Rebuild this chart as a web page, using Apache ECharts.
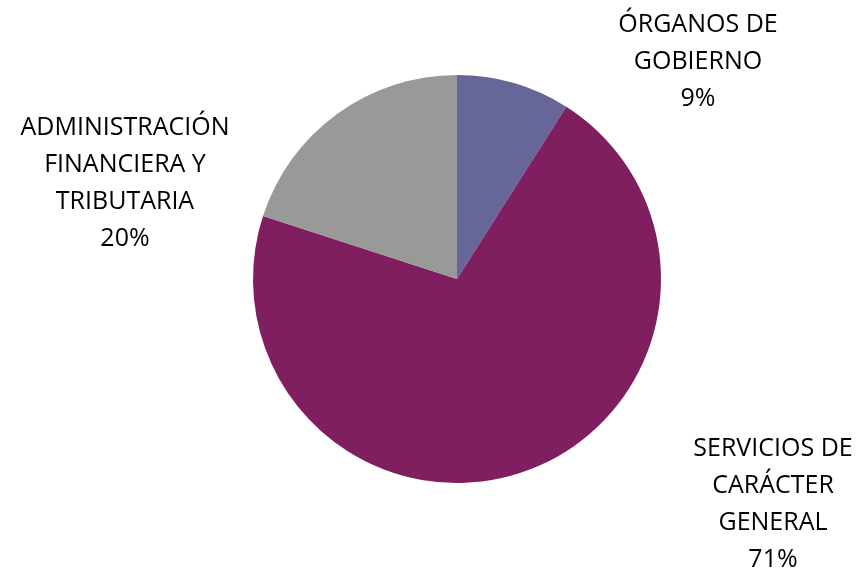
<!DOCTYPE html>
<html>
<head>
<meta charset="utf-8">
<script src="https://cdn.jsdelivr.net/npm/echarts@6/dist/echarts.min.js"></script>
<style>
  html, body { margin: 0; padding: 0; background: #fff; }
  #chart { width: 859px; height: 573px; }
</style>
</head>
<body>
<div id="chart"></div>
<script>
const categories = ['ÓRGANOS DE\nGOBIERNO', 'SERVICIOS DE\nCARÁCTER\nGENERAL', 'ADMINISTRACIÓN\nFINANCIERA Y\nTRIBUTARIA']
const shares = [9, 71, 20]
const colors = ['#666699', '#7f1f5f', '#999999']
// label block centres, in px
const labelPos = [[698, 62], [773, 504], [125, 183]]

const chart = echarts.init(document.getElementById('chart'))

const option = {
  animation: false,
  series: [{
    type: 'pie',
    center: [457, 279],
    radius: 204,
    startAngle: 90,
    clockwise: true,
    label: {
      show: true,
      position: 'outside',
      formatter: p => p.name + '\n' + Math.round(p.percent) + '%',
      fontFamily: 'Open Sans',
      fontSize: 25,
      lineHeight: 37,
      color: '#000',
      align: 'center'
    },
    labelLine: { show: false },
    labelLayout: params => ({
      x: labelPos[params.dataIndex][0],
      y: labelPos[params.dataIndex][1],
      align: 'center',
      verticalAlign: 'middle'
    }),
    itemStyle: { borderWidth: 0 },
    emphasis: { disabled: true },
    data: categories.map((c, i) => ({ name: c, value: shares[i], itemStyle: { color: colors[i] } }))
  }]
}
chart.setOption(option)
</script>
</body>
</html>
